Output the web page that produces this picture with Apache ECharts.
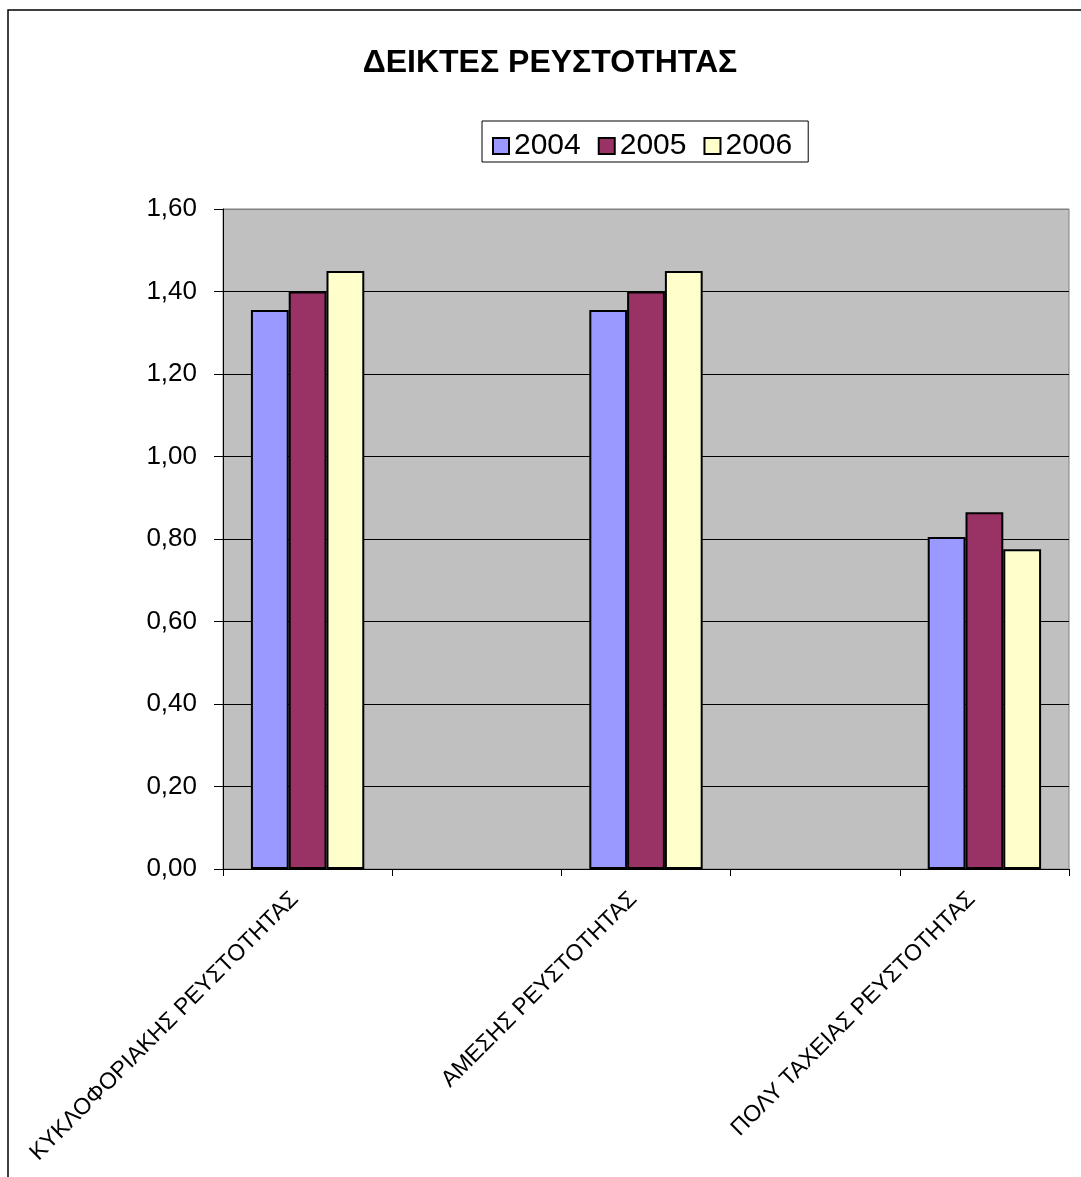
<!DOCTYPE html>
<html>
<head>
<meta charset="utf-8">
<title>ΔΕΙΚΤΕΣ ΡΕΥΣΤΟΤΗΤΑΣ</title>
<script src="https://cdn.jsdelivr.net/npm/echarts@6/dist/echarts.min.js"></script>
<style>
  html, body { margin: 0; padding: 0; background: #ffffff; }
  #chart { width: 1081px; height: 1177px; }
</style>
</head>
<body>
<div id="chart"></div>
<script>
// Liquidity ratios per year; empty slots keep the wide spacing between groups
const categories = ['ΚΥΚΛΟΦΟΡΙΑΚΗΣ ΡΕΥΣΤΟΤΗΤΑΣ', '', 'ΑΜΕΣΗΣ ΡΕΥΣΤΟΤΗΤΑΣ', '', 'ΠΟΛΥ ΤΑΧΕΙΑΣ ΡΕΥΣΤΟΤΗΤΑΣ'];
const years = ['2004', '2005', '2006'];
const values2004 = [1.355, '-', 1.355, '-', 0.805];
const values2005 = [1.40, '-', 1.40, '-', 0.865];
const values2006 = [1.45, '-', 1.45, '-', 0.775];
const yTicks = { min: 0, max: 1.6, interval: 0.2 };
const colors = ['#9999FF', '#993366', '#FFFFCC'];

const chart = echarts.init(document.getElementById('chart'), null, { renderer: 'canvas' });

const font = 'Arial, "Liberation Sans", sans-serif';

// gridlines are black; the one on the top edge stays grey like the plot frame
const gridLineColors = ['#000000', '#000000', '#000000', '#000000', '#000000', '#000000', '#000000', '#000000', '#808080'];

function barSeries(name, data, color) {
  return {
    name: name,
    type: 'bar',
    data: data,
    barGap: '0%',
    barCategoryGap: '33%',
    itemStyle: { color: color, borderColor: '#000000', borderWidth: 2 },
    emphasis: { disabled: true }
  };
}

chart.setOption({
  animation: false,
  backgroundColor: '#ffffff',
  graphic: [{
    type: 'rect',
    shape: { x: 8, y: 10, width: 1200, height: 1300 },
    style: { fill: 'none', stroke: '#000000', lineWidth: 1.5 },
    silent: true
  }],
  title: {
    text: 'ΔΕΙΚΤΕΣ ΡΕΥΣΤΟΤΗΤΑΣ',
    left: 545,
    textAlign: 'center',
    top: 42,
    textStyle: { fontFamily: font, fontSize: 32, fontWeight: 'bold', color: '#000000' }
  },
  legend: {
    data: years,
    left: 482,
    top: 121,
    orient: 'horizontal',
    icon: 'rect',
    itemWidth: 16,
    itemHeight: 16,
    itemGap: 17,
    padding: [10, 16, 1, 10],
    borderColor: '#000000',
    borderWidth: 1,
    backgroundColor: '#ffffff',
    textStyle: { fontFamily: font, fontSize: 30, lineHeight: 30, color: '#000000', padding: [0, 0, 0, 0] },
    selectedMode: false
  },
  grid: {
    left: 223,
    right: 12,
    top: 209,
    bottom: 308,
    show: true,
    backgroundColor: '#C0C0C0',
    borderColor: '#808080',
    borderWidth: 1
  },
  xAxis: {
    type: 'category',
    data: categories,
    boundaryGap: true,
    axisLine: { show: true, lineStyle: { color: '#000000', width: 1 } },
    axisTick: { show: true, interval: 0, alignWithLabel: false, length: 7, lineStyle: { color: '#000000' } },
    axisLabel: {
      interval: 0,
      rotate: 45,
      margin: 14,
      padding: [0, 18, 0, 0],
      fontFamily: font,
      fontSize: 23,
      color: '#000000'
    }
  },
  yAxis: {
    type: 'value',
    min: yTicks.min,
    max: yTicks.max,
    interval: yTicks.interval,
    axisLine: { show: true, lineStyle: { color: '#000000', width: 1 } },
    axisTick: { show: true, length: 9, lineStyle: { color: '#000000' } },
    splitLine: { show: true, lineStyle: { color: gridLineColors, width: 1 } },
    axisLabel: {
      margin: 26,
      fontFamily: font,
      fontSize: 26,
      color: '#000000',
      formatter: v => v.toFixed(2).replace('.', ',')
    }
  },
  series: [
    barSeries(years[0], values2004, colors[0]),
    barSeries(years[1], values2005, colors[1]),
    barSeries(years[2], values2006, colors[2])
  ]
});
</script>
</body>
</html>
